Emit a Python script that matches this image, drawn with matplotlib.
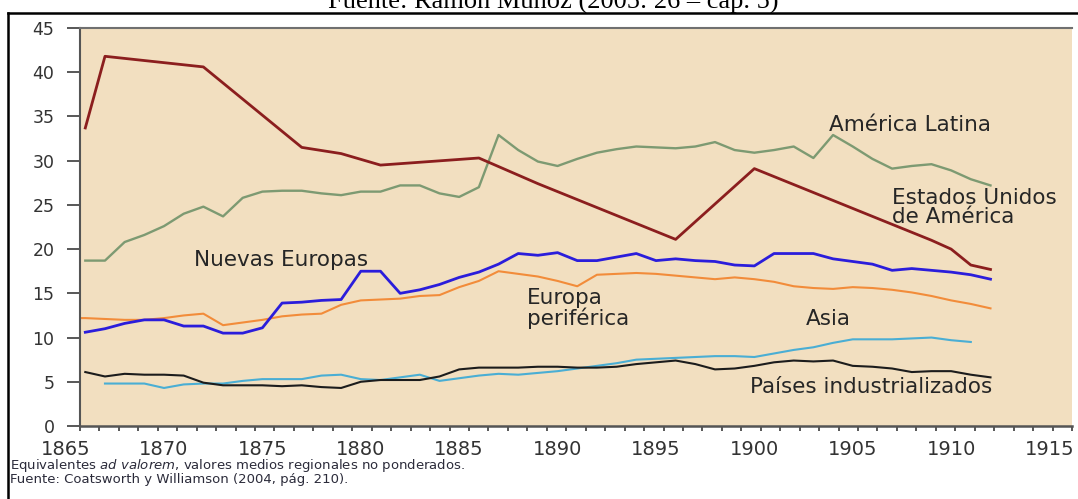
"""
Aranceles medios regionales 1865-1912 (equivalentes ad valorem, %)
"""
import numpy as np
import matplotlib
matplotlib.use("Agg")
import matplotlib.pyplot as plt
from matplotlib.lines import Line2D

plt.rcParams["font.family"] = ["DejaVu Sans"]

# --- datos ---
anios = list(range(1866, 1913))
anios_periferica = list(range(1865, 1913))
anios_asia = list(range(1867, 1912))
anios_eeuu = [1866, 1867, 1872, 1877, 1879, 1881, 1886, 1889, 1896, 1900, 1909, 1910, 1911, 1912]

eeuu = [33.7, 41.8, 40.6, 31.5, 30.8, 29.5, 30.3, 27.4, 21.1, 29.1, 21.0, 20.0, 18.2, 17.7]

america_latina = [
    18.7, 18.7, 20.8, 21.6, 22.6, 24.0, 24.8, 23.7, 25.8, 26.5,
    26.6, 26.6, 26.3, 26.1, 26.5, 26.5, 27.2, 27.2, 26.3, 25.9,
    27.0, 32.9, 31.2, 29.9, 29.4, 30.2, 30.9, 31.3, 31.6, 31.5,
    31.4, 31.6, 32.1, 31.2, 30.9, 31.2, 31.6, 30.3, 32.9, 31.6,
    30.2, 29.1, 29.4, 29.6, 28.9, 27.9, 27.2,
]
nuevas_europas = [
    10.6, 11.0, 11.6, 12.0, 12.0, 11.3, 11.3, 10.5, 10.5, 11.1,
    13.9, 14.0, 14.2, 14.3, 17.5, 17.5, 15.0, 15.4, 16.0, 16.8,
    17.4, 18.3, 19.5, 19.3, 19.6, 18.7, 18.7, 19.1, 19.5, 18.7,
    18.9, 18.7, 18.6, 18.2, 18.1, 19.5, 19.5, 19.5, 18.9, 18.6,
    18.3, 17.6, 17.8, 17.6, 17.4, 17.1, 16.6,
]
europa_periferica = [
    12.2, 12.2, 12.1, 12.0, 12.0, 12.2, 12.5, 12.7, 11.4, 11.7,
    12.0, 12.4, 12.6, 12.7, 13.7, 14.2, 14.3, 14.4, 14.7, 14.8,
    15.7, 16.4, 17.5, 17.2, 16.9, 16.4, 15.8, 17.1, 17.2, 17.3,
    17.2, 17.0, 16.8, 16.6, 16.8, 16.6, 16.3, 15.8, 15.6, 15.5,
    15.7, 15.6, 15.4, 15.1, 14.7, 14.2, 13.8, 13.3,
]
asia = [
    4.8, 4.8, 4.8, 4.3, 4.7, 4.8, 4.8, 5.1, 5.3, 5.3,
    5.3, 5.7, 5.8, 5.3, 5.2, 5.5, 5.8, 5.1, 5.4, 5.7,
    5.9, 5.8, 6.0, 6.2, 6.5, 6.8, 7.1, 7.5, 7.6, 7.7,
    7.8, 7.9, 7.9, 7.8, 8.2, 8.6, 8.9, 9.4, 9.8, 9.8,
    9.8, 9.9, 10.0, 9.7, 9.5,
]
industrializados = [
    6.1, 5.6, 5.9, 5.8, 5.8, 5.7, 4.9, 4.6, 4.6, 4.6,
    4.5, 4.6, 4.4, 4.3, 5.0, 5.2, 5.2, 5.2, 5.6, 6.4,
    6.6, 6.6, 6.6, 6.7, 6.7, 6.6, 6.6, 6.7, 7.0, 7.2,
    7.4, 7.0, 6.4, 6.5, 6.8, 7.2, 7.4, 7.3, 7.4, 6.8,
    6.7, 6.5, 6.1, 6.2, 6.2, 5.8, 5.5,
]

anios_etiquetas = list(range(1865, 1920, 5))
valores_y = list(range(0, 50, 5))

# --- figura ---
fig = plt.figure(figsize=(10.78, 4.99), dpi=100)
ax = fig.add_axes([0.0742, 0.1463, 0.9202, 0.7976])
ax.set_facecolor("#f2dfc0")

ax.plot(anios_periferica, europa_periferica, color="#f28c3a", lw=1.5)
ax.plot(anios_asia, asia, color="#4aaed4", lw=1.5)
ax.plot(anios, industrializados, color="#1c1c1c", lw=1.5)
ax.plot(anios, america_latina, color="#7d9a72", lw=1.7)
ax.plot(anios, nuevas_europas, color="#2b1ddb", lw=2.0)
ax.plot(anios_eeuu, eeuu, color="#8b1e1e", lw=2.0)

x0, x1 = 1865.73, 1916.14
ax.set_xlim(x0, x1)
ax.set_ylim(0, 45)

# ejes y marcas
ax.set_yticks(valores_y)
ax.tick_params(axis="y", length=9.4, width=1.3, pad=9, labelsize=12.5,
               labelcolor="#333333", color="#4a4a4a")
ax.set_xticks([])
ax.set_xticks(np.linspace(x0, x1, 52), minor=True)
ax.tick_params(axis="x", which="minor", length=3.6, width=1.3, color="#4a4a4a")
for a in anios_etiquetas:
    ax.text(a, -0.058, str(a), transform=ax.get_xaxis_transform(),
            ha="center", va="center", fontsize=14, color="#333333")

ax.spines["right"].set_visible(False)
ax.spines["top"].set_color("#707070")
ax.spines["top"].set_linewidth(1.5)
ax.spines["left"].set_color("#555555")
ax.spines["left"].set_linewidth(1.5)
ax.spines["bottom"].set_color("#555555")
ax.spines["bottom"].set_linewidth(1.8)

# etiquetas de las series
kw = dict(fontsize=15.5, color="#262626", ha="left", va="center")
ax.text(1903.8, 34.0, "América Latina", **kw)
ax.text(1907.0, 24.7, "Estados Unidos\nde América", linespacing=0.95, **kw)
ax.text(1871.5, 18.8, "Nuevas Europas", **kw)
ax.text(1888.45, 13.3, "Europa\nperiférica", linespacing=1.0, **kw)
ax.text(1902.6, 12.1, "Asia", **kw)
ax.text(1899.8, 4.45, "Países industrializados", **kw)

# notas al pie y título recortado
fig.text(10 / 1078, 1 - 466 / 499,
         r"Equivalentes $\mathit{ad\ valorem}$, valores medios regionales no ponderados.",
         fontsize=9.5, color="#2b2b3a", va="center")
fig.text(10 / 1078, 1 - 480 / 499, "Fuente: Coatsworth y Williamson (2004, pág. 210).",
         fontsize=9.5, color="#2b2b3a", va="center")
fig.text(553 / 1078, 1 - 9 / 499, "Fuente: Ramón Muñoz (2005: 26 – cap. 5)",
         family="Liberation Serif", fontsize=19, ha="center", va="baseline")

# marco exterior
y_marco = 1 - 12.7 / 499
fig.add_artist(Line2D([8 / 1078, 1], [y_marco, y_marco], transform=fig.transFigure,
                      color="black", lw=1.8))
fig.add_artist(Line2D([8 / 1078, 8 / 1078], [0, y_marco], transform=fig.transFigure,
                      color="black", lw=1.8))

fig.savefig("out.png", dpi=100)
plt.close(fig)
